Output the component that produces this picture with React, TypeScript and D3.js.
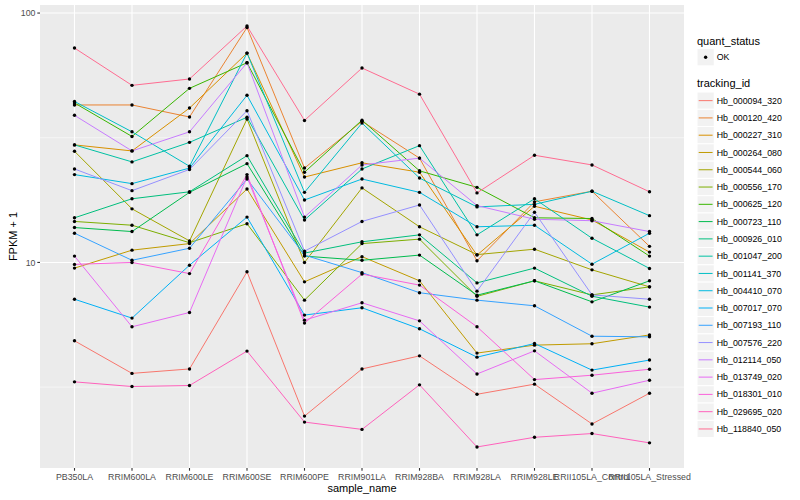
import * as d3 from "d3";
import { useEffect, useRef } from "react";

const samples = [
  "PB350LA",
  "RRIM600LA",
  "RRIM600LE",
  "RRIM600SE",
  "RRIM600PE",
  "RRIM901LA",
  "RRIM928BA",
  "RRIM928LA",
  "RRIM928LE",
  "RRII105LA_Control",
  "RRII105LA_Stressed",
];

const trackingIds = [
  "Hb_000094_320",
  "Hb_000120_420",
  "Hb_000227_310",
  "Hb_000264_080",
  "Hb_000544_060",
  "Hb_000556_170",
  "Hb_000625_120",
  "Hb_000723_110",
  "Hb_000926_010",
  "Hb_001047_200",
  "Hb_001141_370",
  "Hb_004410_070",
  "Hb_007017_070",
  "Hb_007193_110",
  "Hb_007576_220",
  "Hb_012114_050",
  "Hb_013749_020",
  "Hb_018301_010",
  "Hb_029695_020",
  "Hb_118840_050",
];

// FPKM + 1, one value per sample
const hb000094_320 = [4.85, 3.59, 3.74, 9.17, 2.42, 3.74, 4.22, 2.96, 3.25, 2.25, 2.99];
const hb000120_420 = [42.8, 42.8, 38.3, 87.5, 23.9, 36.8, 26.2, 10.15, 17.5, 19.3, 11.6];
const hb000227_310 = [29.6, 28.0, 41.6, 69.1, 22.0, 25.1, 23.0, 10.7, 16.8, 14.8, 11.0];
const hb000264_080 = [9.49, 11.2, 11.9, 19.7, 8.36, 10.55, 8.44, 4.33, 4.66, 4.72, 5.12];
const hb000544_060 = [27.9, 16.4, 12.2, 37.6, 10.0, 19.9, 13.9, 10.75, 11.3, 9.34, 7.98];
const hb000556_170 = [14.6, 14.1, 12.0, 14.3, 7.06, 11.9, 12.4, 7.31, 8.44, 7.41, 7.98];
const hb000625_120 = [43.6, 32.0, 49.9, 63.2, 23.0, 37.2, 23.3, 20.0, 15.1, 15.0, 10.6];
const hb000723_110 = [13.8, 13.3, 19.1, 24.9, 10.6, 10.2, 10.7, 7.39, 8.44, 6.95, 8.44];
const hb000926_010 = [15.1, 18.0, 19.2, 26.8, 10.9, 12.1, 12.9, 8.28, 9.49, 7.32, 6.62];
const hb001047_200 = [29.6, 25.3, 30.3, 38.2, 14.8, 23.7, 29.4, 12.9, 18.0, 12.5, 9.46];
const hb001141_370 = [44.2, 33.4, 24.3, 69.1, 19.1, 36.2, 21.8, 16.7, 17.1, 19.3, 15.4];
const hb004410_070 = [22.5, 20.7, 23.9, 46.8, 17.8, 21.6, 19.1, 13.9, 14.1, 9.84, 13.1];
const hb007017_070 = [7.12, 5.98, 9.75, 15.2, 6.15, 6.58, 5.42, 4.17, 4.73, 3.7, 4.06];
const hb007193_110 = [13.1, 10.2, 11.4, 21.6, 10.7, 9.1, 7.56, 7.06, 6.7, 5.06, 5.03];
const hb007576_220 = [23.7, 19.4, 23.6, 40.6, 11.1, 14.6, 17.0, 7.67, 15.9, 7.41, 7.12];
const hb012114_050 = [38.9, 28.0, 33.4, 63.2, 15.2, 24.6, 26.2, 16.9, 14.9, 14.7, 13.3];
const hb013749_020 = [10.6, 5.52, 6.3, 22.0, 5.87, 6.89, 5.83, 3.57, 4.42, 2.99, 3.37];
const hb018301_010 = [9.82, 10.0, 9.02, 22.5, 5.71, 8.98, 8.11, 5.52, 3.39, 3.53, 3.73];
const hb029695_020 = [3.32, 3.18, 3.21, 4.41, 2.29, 2.14, 3.23, 1.82, 1.99, 2.06, 1.89];
const hb118840_050 = [72.4, 51.3, 54.4, 88.7, 37.1, 60.2, 47.3, 19.0, 26.9, 24.6, 19.2];

const seriesValues = [
  hb000094_320,
  hb000120_420,
  hb000227_310,
  hb000264_080,
  hb000544_060,
  hb000556_170,
  hb000625_120,
  hb000723_110,
  hb000926_010,
  hb001047_200,
  hb001141_370,
  hb004410_070,
  hb007017_070,
  hb007193_110,
  hb007576_220,
  hb012114_050,
  hb013749_020,
  hb018301_010,
  hb029695_020,
  hb118840_050,
];

// ggplot2 default hue palette for 20 levels
const hueColors = [
  "#F8766D", "#EA8331", "#D89000", "#C09B00", "#A3A500",
  "#7CAE00", "#39B600", "#00BB4E", "#00BF7D", "#00C1A3",
  "#00BFC4", "#00BAE0", "#00B0F6", "#35A2FF", "#9590FF",
  "#C77CFF", "#E76BF3", "#FA62DB", "#FF62BC", "#FF6C91",
];

const yBreaks = [10, 100];
const yMinorBreaks = [Math.sqrt(10), Math.sqrt(1000)];

export default function App() {
  const svgRef = useRef<SVGSVGElement>(null);

  useEffect(() => {
    if (!svgRef.current) return;
    d3.select(svgRef.current).selectAll("*").remove();

    const svg = d3.select(svgRef.current);
    const font = "'Liberation Sans', Arial, Helvetica, sans-serif";
    const panel = { left: 40, top: 5, right: 684, bottom: 468 };

    const x = d3
      .scalePoint<string>()
      .domain(samples)
      .range([panel.left, panel.right])
      .padding(0.6);

    // log10 scale with ggplot's 5% expansion
    const all = seriesValues.flat();
    const lo = Math.log10(d3.min(all) as number);
    const hi = Math.log10(d3.max(all) as number);
    const pad = (hi - lo) * 0.05;
    const y = d3
      .scaleLog()
      .domain([Math.pow(10, lo - pad), Math.pow(10, hi + pad)])
      .range([panel.bottom, panel.top]);

    // panel background
    svg
      .append("rect")
      .attr("x", panel.left)
      .attr("y", panel.top)
      .attr("width", panel.right - panel.left)
      .attr("height", panel.bottom - panel.top)
      .attr("fill", "#EBEBEB");

    const grid = svg.append("g").attr("stroke", "white").attr("fill", "none");
    yMinorBreaks.forEach((b) => {
      grid
        .append("line")
        .attr("x1", panel.left)
        .attr("x2", panel.right)
        .attr("y1", y(b))
        .attr("y2", y(b))
        .attr("stroke-width", 0.55);
    });
    yBreaks.forEach((b) => {
      grid
        .append("line")
        .attr("x1", panel.left)
        .attr("x2", panel.right)
        .attr("y1", y(b))
        .attr("y2", y(b))
        .attr("stroke-width", 1.1);
    });
    samples.forEach((s) => {
      grid
        .append("line")
        .attr("x1", x(s)!)
        .attr("x2", x(s)!)
        .attr("y1", panel.top)
        .attr("y2", panel.bottom)
        .attr("stroke-width", 1.1);
    });

    // lines
    const line = d3
      .line<number>()
      .x((_, i) => x(samples[i])!)
      .y((d) => y(d));

    seriesValues.forEach((vals, i) => {
      svg
        .append("path")
        .datum(vals)
        .attr("fill", "none")
        .attr("stroke", hueColors[i])
        .attr("stroke-width", 1)
        .attr("d", line);
    });

    // points
    seriesValues.forEach((vals) => {
      svg
        .append("g")
        .selectAll("circle")
        .data(vals)
        .enter()
        .append("circle")
        .attr("cx", (_, i) => x(samples[i])!)
        .attr("cy", (d) => y(d))
        .attr("r", 1.7)
        .attr("fill", "black");
    });

    // y axis
    const yAxis = svg.append("g");
    yBreaks.forEach((b) => {
      yAxis
        .append("line")
        .attr("x1", panel.left - 2.7)
        .attr("x2", panel.left)
        .attr("y1", y(b))
        .attr("y2", y(b))
        .attr("stroke", "#333333")
        .attr("stroke-width", 1.1);
      yAxis
        .append("text")
        .attr("x", panel.left - 4.5)
        .attr("y", y(b))
        .attr("dy", "0.35em")
        .attr("text-anchor", "end")
        .style("font-family", font)
        .style("font-size", "8.8px")
        .attr("fill", "#4D4D4D")
        .text(String(b));
    });

    // x axis
    const xAxis = svg.append("g");
    samples.forEach((s) => {
      xAxis
        .append("line")
        .attr("x1", x(s)!)
        .attr("x2", x(s)!)
        .attr("y1", panel.bottom)
        .attr("y2", panel.bottom + 2.7)
        .attr("stroke", "#333333")
        .attr("stroke-width", 1.1);
      xAxis
        .append("text")
        .attr("x", x(s)!)
        .attr("y", 480)
        .attr("text-anchor", "middle")
        .style("font-family", font)
        .style("font-size", "8.8px")
        .attr("fill", "#4D4D4D")
        .text(s);
    });

    svg
      .append("text")
      .attr("x", (panel.left + panel.right) / 2)
      .attr("y", 491.5)
      .attr("text-anchor", "middle")
      .style("font-family", font)
      .style("font-size", "11px")
      .attr("fill", "black")
      .text("sample_name");

    svg
      .append("text")
      .attr("transform", `translate(17,${(panel.top + panel.bottom) / 2}) rotate(-90)`)
      .attr("text-anchor", "middle")
      .style("font-family", font)
      .style("font-size", "11px")
      .attr("fill", "black")
      .text("FPKM + 1");

    // legends
    const legend = svg.append("g").attr("transform", "translate(697,0)");
    const keySize = 17.28;

    legend
      .append("text")
      .attr("x", 0)
      .attr("y", 44.5)
      .style("font-family", font)
      .style("font-size", "11px")
      .text("quant_status");
    legend
      .append("rect")
      .attr("x", 0)
      .attr("y", 48.6)
      .attr("width", keySize)
      .attr("height", keySize)
      .attr("fill", "#F2F2F2")
      .attr("stroke", "white");
    legend
      .append("circle")
      .attr("cx", keySize / 2)
      .attr("cy", 48.6 + keySize / 2)
      .attr("r", 1.7)
      .attr("fill", "black");
    legend
      .append("text")
      .attr("x", keySize + 2.5)
      .attr("y", 48.6 + keySize / 2)
      .attr("dy", "0.35em")
      .style("font-family", font)
      .style("font-size", "8.8px")
      .text("OK");

    legend
      .append("text")
      .attr("x", 0)
      .attr("y", 86.5)
      .style("font-family", font)
      .style("font-size", "11px")
      .text("tracking_id");

    const keyTop = 92;
    trackingIds.forEach((id, i) => {
      const ky = keyTop + i * keySize;
      legend
        .append("rect")
        .attr("x", 0)
        .attr("y", ky)
        .attr("width", keySize)
        .attr("height", keySize)
        .attr("fill", "#F2F2F2")
        .attr("stroke", "white");
      legend
        .append("line")
        .attr("x1", 1.7)
        .attr("x2", keySize - 1.7)
        .attr("y1", ky + keySize / 2)
        .attr("y2", ky + keySize / 2)
        .attr("stroke", hueColors[i])
        .attr("stroke-width", 1);
      legend
        .append("text")
        .attr("x", keySize + 2.5)
        .attr("y", ky + keySize / 2)
        .attr("dy", "0.35em")
        .style("font-family", font)
        .style("font-size", "8.8px")
        .text(id);
    });
  }, []);

  return (
    <div style={{ position: "absolute", left: 0, top: 0 }}>
      <svg ref={svgRef} width="800" height="500" style={{ display: "block", background: "white" }} />
    </div>
  );
}
